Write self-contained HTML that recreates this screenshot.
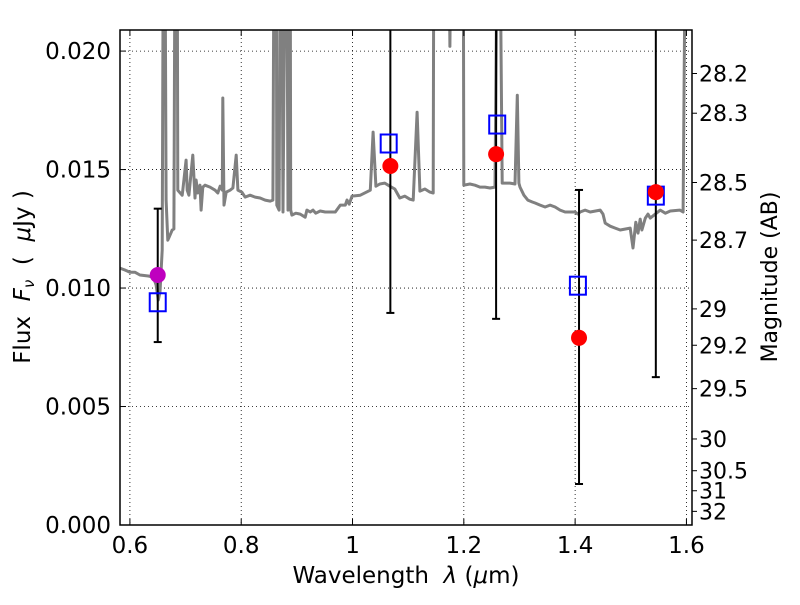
<!DOCTYPE html>
<html><head><meta charset="utf-8"><style>
body{margin:0;background:#fff;}
svg text{font-family:"DejaVu Sans","Liberation Sans",sans-serif;fill:#000;}
</style></head><body>
<svg id="chart" width="800" height="600" xmlns="http://www.w3.org/2000/svg">
<rect width="800" height="600" fill="#fff"/>
<defs><clipPath id="clip"><rect x="120" y="30" width="572" height="495"/></clipPath></defs>
<g id="grid"></g>
<g id="plot" clip-path="url(#clip)"></g>
<rect x="120" y="30" width="572" height="495" fill="none" stroke="#000" stroke-width="1.5"/>
<g id="axes"></g>
<text x="406" y="583" font-size="23" text-anchor="middle">Wavelength&#160;&#160;<tspan font-style="italic">λ</tspan>&#160;(<tspan font-style="italic">μ</tspan>m)</text>
<text transform="translate(30,277) rotate(-90)" font-size="23" text-anchor="middle">Flux&#160;&#160;<tspan font-style="italic">F<tspan font-size="15" dy="4">ν</tspan></tspan><tspan dy="-4">&#160;&#160;(&#160;&#160;</tspan><tspan font-style="italic">μ</tspan>Jy&#160;)</text>
<text transform="translate(777,277) rotate(-90)" font-size="22" text-anchor="middle">Magnitude (AB)</text>
</svg>
<script>
const specLam=[0.582,0.591,0.600,0.609,0.618,0.633,0.642,0.647,0.651,0.654,0.658,0.660,0.663,0.665,0.668,0.672,0.676,0.679,0.681,0.685,0.686,0.694,0.695,0.701,0.703,0.706,0.713,0.717,0.719,0.722,0.726,0.728,0.731,0.735,0.744,0.753,0.758,0.762,0.766,0.767,0.769,0.773,0.780,0.785,0.791,0.794,0.801,0.807,0.816,0.825,0.834,0.843,0.852,0.857,0.859,0.863,0.864,0.868,0.870,0.873,0.875,0.879,0.882,0.884,0.888,0.889,0.891,0.898,0.906,0.915,0.918,0.924,0.929,0.934,0.942,0.951,0.960,0.969,0.978,0.987,0.990,0.994,0.999,1.014,1.032,1.037,1.042,1.049,1.058,1.067,1.076,1.085,1.094,1.103,1.109,1.116,1.121,1.130,1.139,1.145,1.146,1.173,1.175,1.177,1.199,1.200,1.211,1.220,1.229,1.238,1.247,1.256,1.260,1.265,1.269,1.283,1.292,1.296,1.299,1.301,1.308,1.315,1.323,1.328,1.337,1.346,1.355,1.364,1.373,1.382,1.391,1.400,1.405,1.409,1.418,1.427,1.445,1.450,1.454,1.463,1.472,1.481,1.499,1.504,1.509,1.513,1.517,1.520,1.526,1.531,1.535,1.544,1.553,1.562,1.571,1.588,1.594,1.598,1.610];
const specFlux=[0.01084,0.01076,0.01067,0.01067,0.01055,0.01051,0.01046,0.01013,0.00949,0.00983,0.01160,0.025,0.025,0.01371,0.01202,0.01223,0.01245,0.01249,0.025,0.025,0.01413,0.01392,0.01413,0.01540,0.01413,0.01392,0.01561,0.01380,0.01456,0.01401,0.01434,0.01329,0.01426,0.01434,0.01426,0.01413,0.01401,0.01430,0.01413,0.01802,0.01350,0.01405,0.01413,0.01422,0.01561,0.01413,0.01405,0.01384,0.01392,0.01384,0.01380,0.01371,0.01367,0.01371,0.025,0.025,0.01350,0.01329,0.025,0.025,0.01321,0.025,0.025,0.01329,0.025,0.01329,0.01308,0.01316,0.01312,0.01299,0.01329,0.01321,0.01329,0.01316,0.01325,0.01321,0.01321,0.01321,0.01350,0.01350,0.01371,0.01354,0.01388,0.01392,0.01413,0.01658,0.01430,0.01439,0.01443,0.01430,0.01418,0.01380,0.01388,0.01375,0.01371,0.01742,0.01409,0.01418,0.01405,0.01401,0.025,0.025,0.0202,0.025,0.025,0.01434,0.01439,0.01434,0.01426,0.01426,0.01422,0.01426,0.025,0.025,0.01443,0.01443,0.01439,0.01814,0.01443,0.01426,0.01392,0.01371,0.01363,0.01359,0.01350,0.01342,0.01350,0.01342,0.01329,0.01321,0.01321,0.01321,0.01312,0.01321,0.01329,0.01321,0.01329,0.01312,0.01274,0.01261,0.01253,0.01245,0.01253,0.01169,0.01278,0.01232,0.01291,0.01245,0.01295,0.01312,0.01295,0.01312,0.01329,0.01316,0.01325,0.01329,0.01321,0.025,0.025];
const modelLam=[0.65,1.065,1.26,1.405,1.545];
const modelFlux=[0.0094,0.0161,0.0169,0.0101,0.0139];
const obsLam=[0.65,1.068,1.258,1.407,1.545];
const obsFlux=[0.01055,0.01515,0.01565,0.0079,0.01405];
const obsColor=["#bf00bf","red","red","red","red"];
const errLo=[0.00772,0.00895,0.0087,0.00173,0.00624];
const errHi=[0.01335,0.03,0.03,0.01414,0.03];
const xTicks=[0.6,0.8,1.0,1.2,1.4,1.6];
const xTickLabels=["0.6","0.8","1","1.2","1.4","1.6"];
const yTicks=[0,0.005,0.01,0.015,0.02];
const yTickLabels=["0.000","0.005","0.010","0.015","0.020"];
const magTicks=[28.2,28.3,28.5,28.7,29,29.2,29.5,30,30.5,31,32];
const magLabels=["28.2","28.3","28.5","28.7","29","29.2","29.5","30","30.5","31","32"];

const X0=120,X1=692,Y0=525,Y1=30,xmin=0.5822,xmax=1.6100,ymin=0,ymax=0.02089;
const sx=v=>X0+(v-xmin)/(xmax-xmin)*(X1-X0);
const sy=v=>Y0-(v-ymin)/(ymax-ymin)*(Y0-Y1);
const NS="http://www.w3.org/2000/svg";
function mk(tag,attrs,parent){const e=document.createElementNS(NS,tag);for(const k in attrs)e.setAttribute(k,attrs[k]);parent.appendChild(e);return e;}
const grid=document.getElementById('grid'),plot=document.getElementById('plot'),axes=document.getElementById('axes');

xTicks.forEach((t,i)=>{const x=sx(t);
 const g=mk('line',{x1:x,x2:x,y1:Y1,y2:Y0,stroke:'#000','stroke-width':0.8,'stroke-dasharray':'1,3'},grid);
 
 
 mk('line',{x1:x,x2:x,y1:Y0,y2:Y0-6,stroke:'#000'},axes);
 mk('line',{x1:x,x2:x,y1:Y1,y2:Y1+6,stroke:'#000'},axes);
 const tx=mk('text',{x:x,y:553,'font-size':23,'text-anchor':'middle'},axes);tx.textContent=xTickLabels[i];
 
 
});
yTicks.forEach((t,i)=>{const y=sy(t);
 const g=mk('line',{x1:X0,x2:X1,y1:y,y2:y,stroke:'#000','stroke-width':0.8,'stroke-dasharray':'1,3'},grid);
 
 
 mk('line',{x1:X0,x2:X0+6,y1:y,y2:y,stroke:'#000'},axes);
 const tx=mk('text',{x:111,y:y+8,'font-size':23,'text-anchor':'end'},axes);tx.textContent=yTickLabels[i];
 
 
});
magTicks.forEach((m,i)=>{const f=Math.pow(10,(23.9-m)/2.5);const y=sy(f);
 mk('line',{x1:X1,x2:X1+5,y1:y,y2:y,stroke:'#000'},axes);
 const tx=mk('text',{x:699,y:y+8,'font-size':22},axes);tx.textContent=magLabels[i];
 
 
});
let d='';specLam.forEach((l,i)=>{d+=(i?'L':'M')+sx(l).toFixed(1)+','+sy(specFlux[i]).toFixed(1);});
const sp=mk('path',{d:d,fill:'none',stroke:'#808080','stroke-width':3,'stroke-linejoin':'round'},plot);


obsLam.forEach((l,i)=>{const x=sx(l);
 const e=mk('line',{x1:x,x2:x,y1:sy(errHi[i]),y2:sy(errLo[i]),stroke:'#000','stroke-width':2},plot);
 
 
 mk('line',{x1:x-4,x2:x+4,y1:sy(errLo[i]),y2:sy(errLo[i]),stroke:'#000','stroke-width':2},plot);
 mk('line',{x1:x-4,x2:x+4,y1:sy(errHi[i]),y2:sy(errHi[i]),stroke:'#000','stroke-width':2},plot);
});
modelLam.forEach((l,i)=>{
 const r=mk('rect',{x:sx(l)-8,y:sy(modelFlux[i])-9,width:16,height:18,fill:'none',stroke:'#0000ff','stroke-width':2},plot);
 
 
});
obsLam.forEach((l,i)=>{
 const c=mk('circle',{cx:sx(l),cy:sy(obsFlux[i]),r:8,fill:obsColor[i]},plot);
 
 
});
</script>
</body></html>
